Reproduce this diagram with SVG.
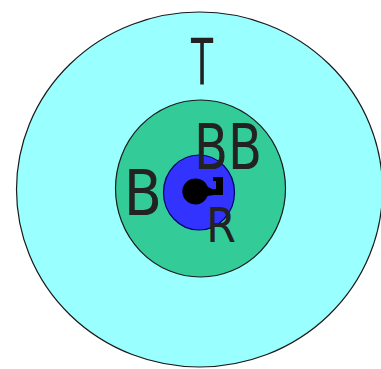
<svg xmlns="http://www.w3.org/2000/svg" width="381" height="369" viewBox="0 0 381 369">
  <style>
    .ring { stroke: #1a1a1a; stroke-width: 1.2; }
    .lbl { font-family: "DejaVu Sans", sans-serif; fill: #222222; text-anchor: middle; }
  </style>
  <rect x="0" y="0" width="381" height="369" fill="#ffffff"/>
  <g id="T">
    <ellipse class="ring" cx="199.5" cy="189.5" rx="183" ry="177.5" fill="#99ffff"/>
    <text class="lbl" font-size="64.5" transform="translate(202,85) scale(0.56,1)">T</text>
  </g>
  <g id="B">
    <ellipse class="ring" cx="200.5" cy="188.5" rx="85" ry="88.5" fill="#33cc99"/>
    <text class="lbl" font-size="62" transform="translate(143,215) scale(0.9,1)">B</text>
  </g>
  <g id="R">
    <ellipse cx="199" cy="192.5" rx="35.5" ry="37.5" fill="#3333ff" stroke="#000066" stroke-width="1.2"/>
    <path fill="#000000" d="M195.5 178.5 A13 13 0 1 0 207.5 196 L214 195 L223 195 L223 177 L213 177 L213 181 L216 181 L216 189 L212 189 L208 187 A13 13 0 0 0 195.5 178.5 Z"/>
    <text class="lbl" font-size="48" transform="translate(221,242) scale(0.89,1)">R</text>
  </g>
  <g id="BB">
    <text class="lbl" font-size="62" transform="translate(228,169) scale(0.8,1)">BB</text>
  </g>
</svg>
